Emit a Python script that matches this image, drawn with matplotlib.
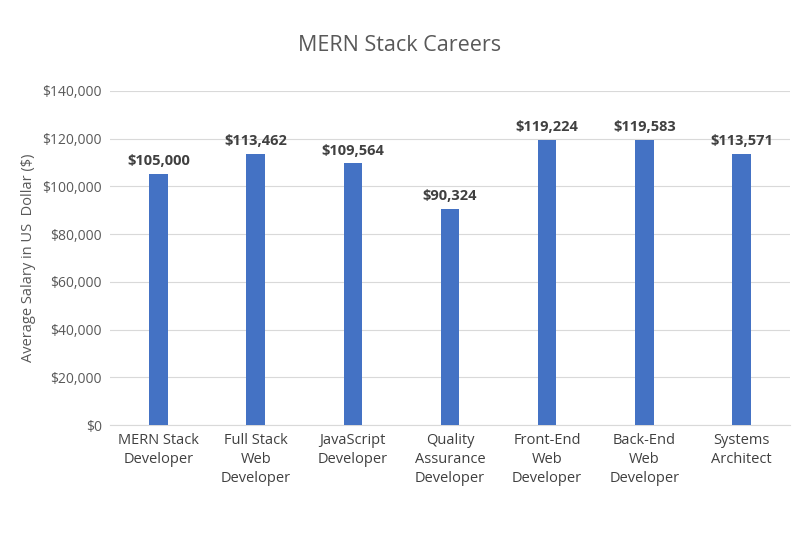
import matplotlib.pyplot as plt

categories = ["MERN Stack\nDeveloper", "Full Stack\nWeb\nDeveloper", "JavaScript\nDeveloper",
              "Quality\nAssurance\nDeveloper", "Front-End\nWeb\nDeveloper",
              "Back-End\nWeb\nDeveloper", "Systems\nArchitect"]
salaries = [105000, 113462, 109564, 90324, 119224, 119583, 113571]
yticks = list(range(0, 140001, 20000))

plt.rcParams["font.family"] = "Open Sans"
fig = plt.figure(figsize=(8, 5.33), dpi=100)
ax = fig.add_axes([0.1375, 0.2026, 0.85, 0.627])

x = range(len(categories))
ax.bar(x, salaries, width=0.19, color="#4472C4", zorder=3)
for i, v in zip(x, salaries):
    ax.text(i, v + 2500, f"${v:,}", ha="center", va="bottom",
            fontsize=10.5, fontweight="bold", color="#404040")

ax.set_ylim(0, 140000)
ax.set_xlim(-0.5, len(categories) - 0.5)
ax.set_yticks(yticks)
ax.set_yticklabels([f"${t:,}" for t in yticks], fontsize=10, color="#595959")
ax.set_xticks(list(x))
ax.set_xticklabels(categories, fontsize=10.5, color="#404040", va="top", linespacing=1.35)
ax.tick_params(length=0, pad=6)
ax.grid(axis="y", color="#d9d9d9", linewidth=0.8, zorder=0)
for s in ["top", "right", "left"]:
    ax.spines[s].set_visible(False)
ax.spines["bottom"].set_color("#d9d9d9")
ax.set_ylabel("Average Salary in US  Dollar ($)", fontsize=10.5, color="#595959")
fig.suptitle("MERN Stack Careers", y=0.935, fontsize=15.5, color="#595959")

fig.savefig("out.png", dpi=100)
